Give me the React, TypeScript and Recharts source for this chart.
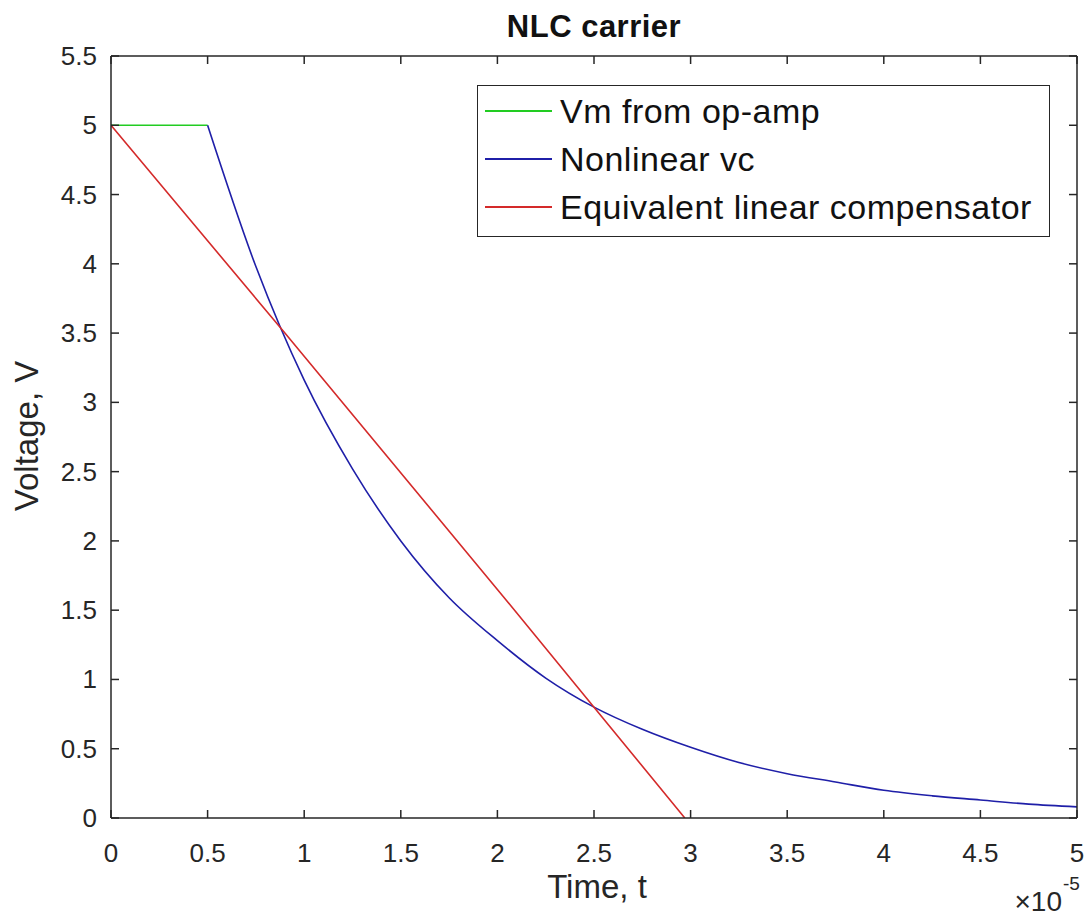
import { LineChart, Line, XAxis, YAxis } from 'recharts';

// time axis is in units of 1e-5 s
const xTicks = [0, 0.5, 1, 1.5, 2, 2.5, 3, 3.5, 4, 4.5, 5];
const yTicks = [0, 0.5, 1, 1.5, 2, 2.5, 3, 3.5, 4, 4.5, 5, 5.5];

const vmTime = [0, 0.5];
const vmVolt = [5, 5];

const vcTime = [0.5, 0.75, 1, 1.25, 1.5, 1.75, 2, 2.25, 2.5, 2.75, 3, 3.25, 3.5, 3.75, 4, 4.25, 4.5, 4.75, 5];
const vcVolt = [5, 3.98, 3.16, 2.52, 2.0, 1.59, 1.28, 1.01, 0.8, 0.64, 0.51, 0.4, 0.32, 0.26, 0.2, 0.16, 0.13, 0.1, 0.08];

const linTime = [0, 0.9, 2, 2.5, 2.97];
const linVolt = [5, 3.5, 1.65, 0.8, 0];

const vmData = vmTime.map((t, i) => ({ t, v: vmVolt[i] }));
const vcData = vcTime.map((t, i) => ({ t, v: vcVolt[i] }));
const linData = linTime.map((t, i) => ({ t, v: linVolt[i] }));

const AXIS = '#262626';
const FONT = '"Liberation Sans", Arial, Helvetica, sans-serif';
const TICK_LEN = 8;

const BottomTick = ({ x = 0, y = 0, payload }: any) => (
  <g>
    <line x1={x} y1={y} x2={x} y2={y - TICK_LEN} stroke={AXIS} strokeWidth={1.5} />
    <text x={x} y={y + 44} textAnchor="middle" fill={AXIS} fontSize={26} fontFamily={FONT}>
      {payload.value}
    </text>
  </g>
);

const TopTick = ({ x = 0, y = 0 }: any) => (
  <line x1={x} y1={y} x2={x} y2={y + TICK_LEN} stroke={AXIS} strokeWidth={1.5} />
);

const LeftTick = ({ x = 0, y = 0, payload }: any) => (
  <g>
    <line x1={x} y1={y} x2={x + TICK_LEN} y2={y} stroke={AXIS} strokeWidth={1.5} />
    <text x={x - 14} y={y + 9} textAnchor="end" fill={AXIS} fontSize={26} fontFamily={FONT}>
      {payload.value}
    </text>
  </g>
);

const RightTick = ({ x = 0, y = 0 }: any) => (
  <line x1={x} y1={y} x2={x - TICK_LEN} y2={y} stroke={AXIS} strokeWidth={1.5} />
);

const legendItems = [
  { name: 'Vm from op-amp', color: '#22cc22' },
  { name: 'Nonlinear vc', color: '#1f1fa8' },
  { name: 'Equivalent linear compensator', color: '#d42a2a' },
];

export default function App() {
  return (
    <div style={{ position: 'absolute', left: 0, top: 0, width: 1091, height: 919, background: '#fff' }}>
      <LineChart
        width={1091}
        height={919}
        margin={{ top: 55, right: 13, bottom: 100, left: 110 }}
      >
        <XAxis
          xAxisId="b"
          dataKey="t"
          type="number"
          domain={[0, 5]}
          ticks={xTicks}
          height={1}
          tickSize={0}
          tickMargin={0}
          tickLine={false}
          tick={<BottomTick />}
          stroke={AXIS}
          strokeWidth={1.5}
          allowDataOverflow
        />
        <XAxis
          xAxisId="top"
          orientation="top"
          dataKey="t"
          type="number"
          domain={[0, 5]}
          ticks={xTicks}
          height={1}
          tickSize={0}
          tickMargin={0}
          tickLine={false}
          tick={<TopTick />}
          stroke={AXIS}
          strokeWidth={1.5}
          allowDataOverflow
        />
        <YAxis
          yAxisId="l"
          type="number"
          domain={[0, 5.5]}
          ticks={yTicks}
          width={1}
          tickSize={0}
          tickMargin={0}
          tickLine={false}
          tick={<LeftTick />}
          stroke={AXIS}
          strokeWidth={1.5}
          allowDataOverflow
        />
        <YAxis
          yAxisId="r"
          orientation="right"
          type="number"
          domain={[0, 5.5]}
          ticks={yTicks}
          width={1}
          tickSize={0}
          tickMargin={0}
          tickLine={false}
          tick={<RightTick />}
          stroke={AXIS}
          strokeWidth={1.5}
          allowDataOverflow
        />
        <Line
          xAxisId="b"
          yAxisId="l"
          data={vmData}
          dataKey="v"
          name="Vm from op-amp"
          type="linear"
          stroke="#22cc22"
          strokeWidth={1.6}
          dot={false}
          isAnimationActive={false}
        />
        <Line
          xAxisId="b"
          yAxisId="l"
          data={vcData}
          dataKey="v"
          name="Nonlinear vc"
          type="monotone"
          stroke="#1f1fa8"
          strokeWidth={1.6}
          dot={false}
          isAnimationActive={false}
        />
        <Line
          xAxisId="b"
          yAxisId="l"
          data={linData}
          dataKey="v"
          name="Equivalent linear compensator"
          type="linear"
          stroke="#d42a2a"
          strokeWidth={1.6}
          dot={false}
          isAnimationActive={false}
        />
      </LineChart>
      <div
        style={{
          position: 'absolute',
          left: 477,
          top: 85,
          width: 573,
          height: 152,
          boxSizing: 'border-box',
          border: `1.5px solid ${AXIS}`,
          background: '#fff',
          padding: '1px 0 0 7px',
          fontFamily: FONT,
          fontSize: 34,
          letterSpacing: 0.5,
          color: '#111',
        }}
      >
        {legendItems.map((it) => (
          <div key={it.name} style={{ display: 'flex', alignItems: 'center', height: 48, whiteSpace: 'nowrap' }}>
            <span style={{ display: 'inline-block', width: 67, height: 2, background: it.color, marginRight: 8 }} />
            <span>{it.name}</span>
          </div>
        ))}
      </div>
      <svg
        width={1091}
        height={919}
        style={{ position: 'absolute', left: 0, top: 0, pointerEvents: 'none' }}
        fontFamily={FONT}
      >
        <text x={594} y={37} textAnchor="middle" fontSize={31} fontWeight="bold" fill="#111" letterSpacing={0.5}>
          NLC carrier
        </text>
        <text x={597} y={898} textAnchor="middle" fontSize={33} fill={AXIS}>
          Time, t
        </text>
        <text x={38} y={436} textAnchor="middle" fontSize={33} fill={AXIS} transform="rotate(-90, 38, 436)">
          Voltage, V
        </text>
        <text x={1062} y={911} textAnchor="end" fontSize={28} fill={AXIS}>
          ×10
        </text>
        <text x={1063} y={890} textAnchor="start" fontSize={19} fill={AXIS}>
          -5
        </text>
      </svg>
    </div>
  );
}
